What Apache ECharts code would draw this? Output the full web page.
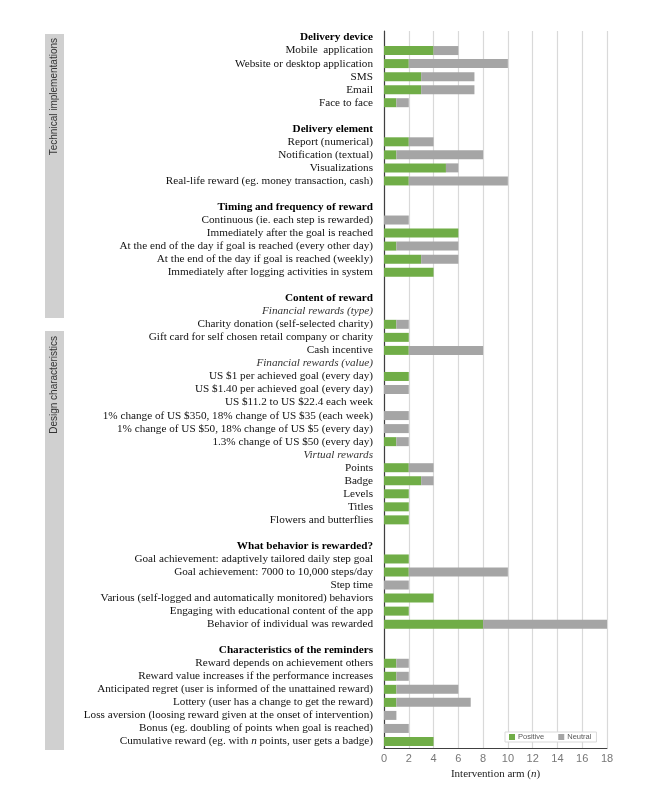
<!DOCTYPE html>
<html>
<head>
<meta charset="utf-8">
<script src="https://cdn.jsdelivr.net/npm/echarts@6/dist/echarts.min.js"></script>
<style>
  html, body { margin: 0; padding: 0; background: #fff; }
  #chart { width: 666px; height: 799px; }
</style>
</head>
<body>
<div id="chart"></div>
<script>
// ---- Data ----
const categories = [
  'Delivery device',
  'Mobile  application',
  'Website or desktop application',
  'SMS',
  'Email',
  'Face to face',
  ' ',
  'Delivery element',
  'Report (numerical)',
  'Notification (textual)',
  'Visualizations',
  'Real-life reward (eg. money transaction, cash)',
  '  ',
  'Timing and frequency of reward',
  'Continuous (ie. each step is rewarded)',
  'Immediately after the goal is reached',
  'At the end of the day if goal is reached (every other day)',
  'At the end of the day if goal is reached (weekly)',
  'Immediately after logging activities in system',
  '   ',
  'Content of reward',
  'Financial rewards (type)',
  'Charity donation (self-selected charity)',
  'Gift card for self chosen retail company or charity',
  'Cash incentive',
  'Financial rewards (value)',
  'US $1 per achieved goal (every day)',
  'US $1.40 per achieved goal (every day)',
  'US $11.2 to US $22.4 each week',
  '1% change of US $350, 18% change of US $35 (each week)',
  '1% change of US $50, 18% change of US $5 (every day)',
  '1.3% change of US $50 (every day)',
  'Virtual rewards',
  'Points',
  'Badge',
  'Levels',
  'Titles',
  'Flowers and butterflies',
  '    ',
  'What behavior is rewarded?',
  'Goal achievement: adaptively tailored daily step goal',
  'Goal achievement: 7000 to 10,000 steps/day',
  'Step time',
  'Various (self-logged and automatically monitored) behaviors',
  'Engaging with educational content of the app',
  'Behavior of individual was rewarded',
  '     ',
  'Characteristics of the reminders',
  'Reward depends on achievement others',
  'Reward value increases if the performance increases',
  'Anticipated regret (user is informed of the unattained reward)',
  'Lottery (user has a change to get the reward)',
  'Loss aversion (loosing reward given at the onset of intervention)',
  'Bonus (eg. doubling of points when goal is reached)',
  'Cumulative reward (eg. with n points, user gets a badge)'
];

const positive = [
  null, 4, 2, 3, 3, 1,
  null,
  null, 2, 1, 5, 2,
  null,
  null, 0, 6, 1, 3, 4,
  null,
  null, null, 1, 2, 2,
  null, 2, 0, 0, 0, 0, 1,
  null, 2, 3, 2, 2, 2,
  null,
  null, 2, 2, 0, 4, 2, 8,
  null,
  null, 1, 1, 1, 1, 0, 0, 4
];

const neutral = [
  null, 2, 8, 4.3, 4.3, 1,
  null,
  null, 2, 7, 1, 8,
  null,
  null, 2, 0, 5, 3, 0,
  null,
  null, null, 1, 0, 6,
  null, 0, 2, 0, 2, 2, 1,
  null, 2, 1, 0, 0, 0,
  null,
  null, 0, 8, 2, 0, 0, 10,
  null,
  null, 1, 1, 5, 6, 1, 2, 0
];

const headerRows = [
  'Delivery device', 'Delivery element', 'Timing and frequency of reward',
  'Content of reward', 'What behavior is rewarded?', 'Characteristics of the reminders'
];
const subheaderRows = ['Financial rewards (type)', 'Financial rewards (value)', 'Virtual rewards'];
const seriesNames = ['Positive', 'Neutral'];
const sideLabels = ['Technical implementations', 'Design characteristics'];
const xTicks = { min: 0, max: 18, step: 2 };
const xAxisTitle = ['Intervention arm (', 'n', ')'];

// ---- Chart ----
const chart = echarts.init(document.getElementById('chart'), null, { renderer: 'canvas' });

const SERIF = '"Liberation Serif", "DejaVu Serif", serif';
const SANS = '"Liberation Sans", "DejaVu Sans", sans-serif';

function labelFormatter(v) {
  if (headerRows.indexOf(v) >= 0) return '{h|' + v + '}';
  if (subheaderRows.indexOf(v) >= 0) return '{s|' + v + '}';
  if (v.indexOf(' n ') >= 0) {
    const parts = v.split(' n ');
    return '{r|' + parts[0] + ' }{i|n}{r| ' + parts[1] + '}';
  }
  return '{r|' + v + '}';
}

const option = {
  backgroundColor: '#ffffff',
  animation: false,
  grid: { left: 384, right: 59, top: 31, bottom: 51, containLabel: false },
  legend: {
    data: seriesNames,
    left: 505,
    top: 732,
    itemWidth: 6,
    itemHeight: 6,
    itemGap: 14,
    icon: 'rect',
    padding: [1, 5, 1, 4],
    borderColor: '#d9d9d9',
    borderWidth: 1,
    backgroundColor: '#ffffff',
    textStyle: { fontFamily: SANS, fontSize: 7.5, color: '#595959', padding: [0, 0, 0, -2] }
  },
  xAxis: {
    type: 'value',
    min: xTicks.min,
    max: xTicks.max,
    interval: xTicks.step,
    axisLine: { show: true, lineStyle: { color: '#404040', width: 1 } },
    axisTick: { show: false },
    axisLabel: { color: '#777777', fontFamily: SANS, fontSize: 11, margin: 5 },
    splitLine: { show: true, lineStyle: { color: '#d9d9d9', width: 1.2 } },
    name: '{a|' + xAxisTitle[0] + '}{b|' + xAxisTitle[1] + '}{a|' + xAxisTitle[2] + '}',
    nameLocation: 'middle',
    nameGap: 21,
    nameTextStyle: {
      rich: {
        a: { fontFamily: SERIF, fontSize: 11, color: '#222' },
        b: { fontFamily: SERIF, fontSize: 11, color: '#222', fontStyle: 'italic' }
      }
    }
  },
  yAxis: {
    type: 'category',
    inverse: true,
    data: categories,
    axisLine: { show: true, lineStyle: { color: '#404040', width: 1.2 } },
    axisTick: { show: false },
    splitLine: { show: false },
    axisLabel: {
      interval: 0,
      margin: 11,
      formatter: labelFormatter,
      rich: {
        r: { fontFamily: SERIF, fontSize: 11.2, color: '#111' },
        i: { fontFamily: SERIF, fontSize: 11.2, color: '#111', fontStyle: 'italic' },
        h: { fontFamily: SERIF, fontSize: 11.2, color: '#000', fontWeight: 'bold' },
        s: { fontFamily: SERIF, fontSize: 11.2, color: '#333', fontStyle: 'italic' }
      }
    }
  },
  series: [
    {
      name: seriesNames[0],
      type: 'bar',
      stack: 'total',
      barWidth: 9,
      itemStyle: { color: '#70ad47' },
      data: positive
    },
    {
      name: seriesNames[1],
      type: 'bar',
      stack: 'total',
      barWidth: 9,
      itemStyle: { color: '#a5a5a5' },
      data: neutral
    }
  ],
  graphic: [
    { type: 'rect', shape: { x: 45, y: 34, width: 19, height: 284 }, style: { fill: '#d0d0d0' }, silent: true },
    { type: 'rect', shape: { x: 45, y: 331, width: 19, height: 419 }, style: { fill: '#d0d0d0' }, silent: true },
    {
      type: 'text', x: 54.5, y: 38, rotation: Math.PI / 2,
      style: { text: sideLabels[0], fontFamily: SANS, fontSize: 10, fill: '#333', align: 'right', verticalAlign: 'middle' },
      silent: true
    },
    {
      type: 'text', x: 54.5, y: 336, rotation: Math.PI / 2,
      style: { text: sideLabels[1], fontFamily: SANS, fontSize: 10, fill: '#333', align: 'right', verticalAlign: 'middle' },
      silent: true
    }
  ]
};

chart.setOption(option);
</script>
</body>
</html>
